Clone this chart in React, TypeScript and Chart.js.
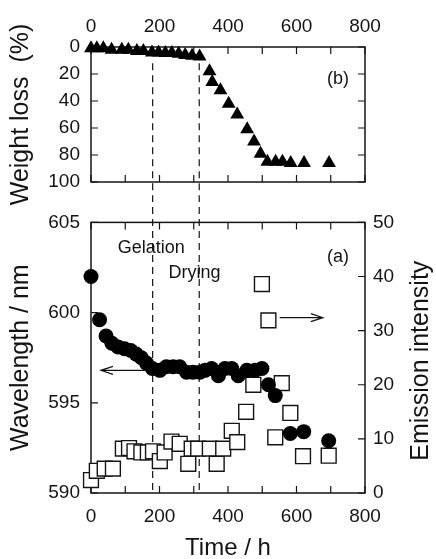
import React, { useEffect, useRef } from 'react';
import { Chart, registerables } from 'chart.js';

Chart.register(...registerables);

// ---------- data ----------
const timeTicksStep = 200;
const weightTime = [0, 17, 36, 60, 90, 109, 134, 153, 178, 197, 217, 236, 256, 275, 295, 317, 346, 354, 378, 402, 427, 456, 476, 495, 515, 539, 559, 583, 622, 695];
const weightLoss = [1, 1, 1, 2, 2, 2, 3, 3, 4, 4, 4.5, 4.5, 5, 6, 6.5, 7, 18, 26, 32, 42, 50, 61, 70, 79, 85, 85, 85, 86, 86, 86];

const wlTime = [0, 25, 44, 61, 79, 98, 116, 132, 147, 162, 179, 201, 220, 240, 259, 279, 298, 318, 333, 352, 372, 391, 411, 430, 455, 479, 499, 518, 538, 582, 621, 694];
const wavelength = [602.0, 599.6, 598.7, 598.3, 598.1, 598.0, 597.9, 597.7, 597.5, 597.2, 596.9, 596.8, 597.0, 597.0, 597.0, 596.7, 596.7, 596.7, 596.8, 596.9, 596.5, 596.9, 596.9, 596.5, 596.8, 596.8, 596.9, 596.0, 595.4, 593.3, 593.4, 592.9];

const emTime = [0, 17, 40, 64, 93, 111, 127, 147, 166, 181, 201, 215, 235, 259, 284, 294, 313, 347, 367, 386, 411, 427, 453, 474, 499, 518, 538, 557, 582, 619, 694];
const emission = [2.4, 4.1, 4.5, 4.5, 8.2, 8.3, 7.7, 7.5, 7.5, 7.7, 5.9, 7.5, 9.5, 9.1, 5.4, 8.2, 8.2, 8.2, 5.4, 8.2, 11.5, 9.4, 15.0, 20.0, 38.6, 31.9, 10.3, 20.3, 14.8, 6.8, 6.9];

const stageBoundaries = [180, 316]; // h : gelation end / drying end

// ---------- style ----------
const INK = '#141414';
const NARROW = '"Liberation Sans Narrow", "Arial Narrow", "Liberation Sans", Arial, sans-serif';
const SANS = '"Liberation Sans", Arial, sans-serif';
const tickFont = { family: NARROW, size: 19 };
const titleFont = { family: SANS, size: 25 };
const TICK_LEN = 7;
const DASH = [7, 5];

function strokeFrame(chart: any, xMinor: number, yIds: { id: string; side: 'left' | 'right' | 'both' }[]) {
  const { ctx, chartArea: a } = chart;
  ctx.save();
  ctx.strokeStyle = INK;
  ctx.lineWidth = 1.5;
  ctx.strokeRect(a.left, a.top, a.right - a.left, a.bottom - a.top);
  ctx.lineWidth = 1.2;
  ctx.beginPath();
  const xs = chart.scales.x;
  for (let v = xs.min; v <= xs.max + 1e-6; v += xMinor) {
    const px = xs.getPixelForValue(v);
    ctx.moveTo(px, a.top);
    ctx.lineTo(px, a.top + TICK_LEN);
    ctx.moveTo(px, a.bottom);
    ctx.lineTo(px, a.bottom - TICK_LEN);
  }
  for (const { id, side } of yIds) {
    const s = chart.scales[id];
    for (const t of s.ticks) {
      const py = s.getPixelForValue(t.value);
      if (side === 'left' || side === 'both') {
        ctx.moveTo(a.left, py);
        ctx.lineTo(a.left + TICK_LEN, py);
      }
      if (side === 'right' || side === 'both') {
        ctx.moveTo(a.right, py);
        ctx.lineTo(a.right - TICK_LEN, py);
      }
    }
  }
  ctx.stroke();
  ctx.restore();
}

function arrow(ctx: CanvasRenderingContext2D, x1: number, y: number, x2: number) {
  const d = Math.sign(x2 - x1);
  ctx.beginPath();
  ctx.moveTo(x1, y);
  ctx.lineTo(x2, y);
  ctx.moveTo(x2 - d * 12, y - 4);
  ctx.lineTo(x2, y);
  ctx.lineTo(x2 - d * 12, y + 4);
  ctx.stroke();
}

const SEAM_TOP = 200; // where the top canvas hands the dashed lines to the bottom one

export default function App() {
  const topRef = useRef<HTMLCanvasElement>(null);
  const botRef = useRef<HTMLCanvasElement>(null);

  useEffect(() => {
    const topPlugin = {
      id: 'topDecor',
      beforeDatasetsDraw(chart: any) {
        strokeFrame(chart, 100, [{ id: 'y', side: 'both' }]);
        const { ctx } = chart;
        const xs = chart.scales.x;
        const ys = chart.scales.y;
        ctx.save();
        ctx.strokeStyle = INK;
        ctx.lineWidth = 1.2;
        ctx.setLineDash(DASH);
        for (const b of stageBoundaries) {
          const px = xs.getPixelForValue(b);
          ctx.beginPath();
          ctx.moveTo(px, ys.getPixelForValue(12));
          ctx.lineTo(px, SEAM_TOP);
          ctx.stroke();
        }
        ctx.restore();
      },
      afterDatasetsDraw(chart: any) {
        const { ctx } = chart;
        ctx.save();
        ctx.fillStyle = INK;
        ctx.font = `18px ${NARROW}`;
        ctx.textAlign = 'center';
        ctx.textBaseline = 'middle';
        ctx.fillText('(b)', chart.scales.x.getPixelForValue(721), chart.scales.y.getPixelForValue(24));
        ctx.restore();
      },
    };

    const botPlugin = {
      id: 'botDecor',
      beforeDatasetsDraw(chart: any) {
        strokeFrame(chart, 100, [{ id: 'y', side: 'left' }, { id: 'y2', side: 'right' }]);
        const { ctx, chartArea: a } = chart;
        const xs = chart.scales.x;
        ctx.save();
        ctx.strokeStyle = INK;
        ctx.lineWidth = 1.2;
        ctx.setLineDash(DASH);
        ctx.lineDashOffset = 5;
        for (const b of stageBoundaries) {
          const px = xs.getPixelForValue(b);
          ctx.beginPath();
          ctx.moveTo(px, 0);
          ctx.lineTo(px, a.bottom);
          ctx.stroke();
        }
        ctx.restore();
      },
      afterDatasetsDraw(chart: any) {
        const { ctx, chartArea: a } = chart;
        const xs = chart.scales.x;
        const ys = chart.scales.y;
        const y2 = chart.scales.y2;
        ctx.save();
        ctx.fillStyle = INK;
        ctx.strokeStyle = INK;
        ctx.lineWidth = 1.2;
        ctx.font = `18px ${NARROW}`;
        ctx.textAlign = 'center';
        ctx.textBaseline = 'middle';
        ctx.fillText('Gelation', xs.getPixelForValue(176), ys.getPixelForValue(603.6));
        ctx.fillText('Drying', xs.getPixelForValue(302), ys.getPixelForValue(602.2));
        ctx.fillText('(a)', xs.getPixelForValue(721), ys.getPixelForValue(603.1));
        arrow(ctx, xs.getPixelForValue(161), ys.getPixelForValue(596.8), xs.getPixelForValue(29));
        arrow(ctx, xs.getPixelForValue(551), y2.getPixelForValue(32.4), xs.getPixelForValue(677));
        // right axis title, reading bottom-to-top
        ctx.font = `25px ${SANS}`;
        ctx.translate(a.right + 56, (a.top + a.bottom) / 2 + 3);
        ctx.rotate(-Math.PI / 2);
        ctx.fillText('Emission intensity', 0, 0);
        ctx.restore();
      },
    };

    const top = new Chart(topRef.current!, {
      type: 'scatter',
      data: {
        datasets: [
          {
            data: weightTime.map((t, i) => ({ x: t, y: weightLoss[i] })),
            pointStyle: 'triangle',
            pointRadius: 8,
            backgroundColor: '#000',
            borderColor: '#000',
            borderWidth: 0,
            clip: false as any,
          },
        ],
      },
      options: {
        responsive: false,
        animation: false,
        events: [],
        layout: { padding: { left: 0, right: 71, top: 0, bottom: 33 } },
        plugins: { legend: { display: false }, tooltip: { enabled: false } },
        scales: {
          x: {
            type: 'linear',
            position: 'top',
            min: 0,
            max: 800,
            ticks: { stepSize: timeTicksStep, font: tickFont, color: INK, padding: 9, autoSkip: false, maxRotation: 0 },
            grid: { display: false, drawTicks: false },
            border: { display: false },
            afterFit: (s: any) => { s.height = 47; },
          },
          y: {
            type: 'linear',
            reverse: true,
            min: 0,
            max: 100,
            ticks: { stepSize: 20, font: { ...tickFont, lineHeight: 1 }, color: INK, padding: 11, autoSkip: false },
            grid: { display: false, drawTicks: false },
            border: { display: false },
            title: { display: true, text: 'Weight loss  (%)', font: titleFont, color: INK, padding: { top: 6, bottom: 0 } },
            afterFit: (s: any) => { s.width = 91; },
          },
        },
      },
      plugins: [topPlugin],
    });

    const bot = new Chart(botRef.current!, {
      type: 'scatter',
      data: {
        datasets: [
          {
            data: wlTime.map((t, i) => ({ x: t, y: wavelength[i] })),
            yAxisID: 'y',
            pointStyle: 'circle',
            pointRadius: 7.5,
            backgroundColor: '#000',
            borderColor: '#000',
            borderWidth: 0,
            clip: false as any,
          },
          {
            data: emTime.map((t, i) => ({ x: t, y: emission[i] })),
            yAxisID: 'y2',
            pointStyle: 'rect',
            pointRadius: 10.5,
            backgroundColor: '#fff',
            borderColor: INK,
            borderWidth: 1.4,
            clip: false as any,
          },
        ],
      },
      options: {
        responsive: false,
        animation: false,
        events: [],
        layout: { padding: { left: 0, right: 0, top: 19, bottom: 0 } },
        plugins: { legend: { display: false }, tooltip: { enabled: false } },
        scales: {
          x: {
            type: 'linear',
            position: 'bottom',
            min: 0,
            max: 800,
            ticks: { stepSize: timeTicksStep, font: tickFont, color: INK, padding: 12, autoSkip: false, maxRotation: 0 },
            grid: { display: false, drawTicks: false },
            border: { display: false },
            title: { display: true, text: 'Time / h', font: { family: SANS, size: 24, lineHeight: 0.9 }, color: INK, padding: { top: 0, bottom: 0 } },
            afterFit: (s: any) => { s.height = 66; },
          },
          y: {
            type: 'linear',
            position: 'left',
            min: 590,
            max: 605,
            ticks: { stepSize: 5, font: tickFont, color: INK, padding: 11, autoSkip: false },
            grid: { display: false, drawTicks: false },
            border: { display: false },
            title: { display: true, text: 'Wavelength / nm', font: titleFont, color: INK, padding: { top: 6, bottom: 0 } },
            afterFit: (s: any) => { s.width = 91; },
          },
          y2: {
            type: 'linear',
            position: 'right',
            min: 0,
            max: 50,
            ticks: { stepSize: 10, font: tickFont, color: INK, padding: 8, autoSkip: false },
            grid: { display: false, drawTicks: false },
            border: { display: false },
            afterFit: (s: any) => { s.width = 71; },
          },
        },
      },
      plugins: [botPlugin],
    });

    return () => {
      top.destroy();
      bot.destroy();
    };
  }, []);

  return (
    <div style={{ position: 'absolute', left: 0, top: 0, width: 436, height: 559, background: '#fff' }}>
      <canvas ref={topRef} width={436} height={215} style={{ position: 'absolute', left: 0, top: 0, display: 'block' }} />
      <canvas ref={botRef} width={436} height={359} style={{ position: 'absolute', left: 0, top: SEAM_TOP, display: 'block' }} />
    </div>
  );
}
